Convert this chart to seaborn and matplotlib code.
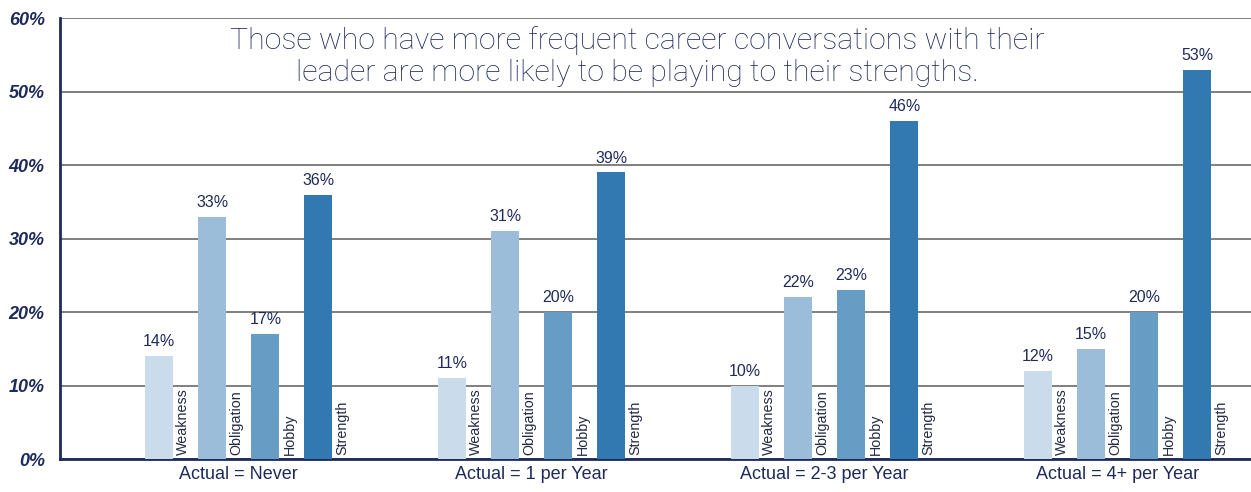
import seaborn as sns
import matplotlib.pyplot as plt
import pandas as pd

# Datos
grupos = ['Actual = Never', 'Actual = 1 per Year', 'Actual = 2-3 per Year', 'Actual = 4+ per Year']
tipos = ['Weakness', 'Obligation', 'Hobby', 'Strength']
weakness = [14, 11, 10, 12]
obligation = [33, 31, 22, 15]
hobby = [17, 20, 23, 20]
strength = [36, 39, 46, 53]

filas = []
for tipo, valores in zip(tipos, [weakness, obligation, hobby, strength]):
    for g, v in zip(grupos, valores):
        filas.append({'Grupo': g, 'Tipo': tipo, 'Valor': v})
df = pd.DataFrame(filas)

colores = ['#cadcec', '#9bbdd9', '#679dc5', '#3379b1']
navy = '#1f2a5c'

sns.set_style('white')
plt.rcParams['font.family'] = ['Liberation Sans', 'DejaVu Sans']

fig = plt.figure(figsize=(12.51, 4.92), dpi=100)
ax = fig.add_axes([0.048, 0.067, 0.952, 0.896])

sns.barplot(data=df, x='Grupo', y='Valor', hue='Tipo', order=grupos, hue_order=tipos,
            palette=colores, width=0.725, gap=0.472, saturation=1, legend=False, ax=ax,
            zorder=3, linewidth=0)

# etiquetas de valor
for cont in ax.containers:
    ax.bar_label(cont, labels=[f'{int(v)}%' for v in cont.datavalues], padding=5,
                 fontsize=11.5, color=navy)

# etiquetas giradas al lado de cada barra
for cont, tipo in zip(ax.containers, tipos):
    for p in cont.patches:
        ax.annotate(tipo, xy=(p.get_x() + p.get_width(), 0), xytext=(2.3, 3),
                    textcoords='offset points', rotation=90, ha='left', va='bottom',
                    fontsize=10.3, color='#222a44')

ax.set_ylim(0, 60)
ax.set_xlim(-0.61, 3.455)
ax.set_yticks(range(0, 61, 10))
ax.set_yticklabels([f'{v}%' for v in range(0, 61, 10)], fontsize=13,
                   fontweight='bold', fontstyle='italic', color=navy)
ax.yaxis.grid(True, color='#6a6a6a', linewidth=1.2, zorder=0)
ax.set_axisbelow(True)
ax.tick_params(axis='y', direction='in', length=13, width=2, color=navy, pad=11)
ax.tick_params(axis='x', length=0, labelsize=13, labelcolor=navy, pad=5)
ax.set_xlabel('')
ax.set_ylabel('')

for s in ['top', 'right']:
    ax.spines[s].set_visible(False)
for s in ['left', 'bottom']:
    ax.spines[s].set_color(navy)
    ax.spines[s].set_linewidth(2)

ax.text(0.485, 0.983, 'Those who have more frequent career conversations with their\n'
        'leader are more likely to be playing to their strengths.',
        transform=ax.transAxes, ha='center', va='top', fontsize=21.8, color='#1c2858',
        family=['Roboto', 'DejaVu Sans'], fontweight='light', linespacing=1.22,
        bbox=dict(facecolor='white', edgecolor='none', pad=1), zorder=5)

fig.savefig('out.png', dpi=100)
